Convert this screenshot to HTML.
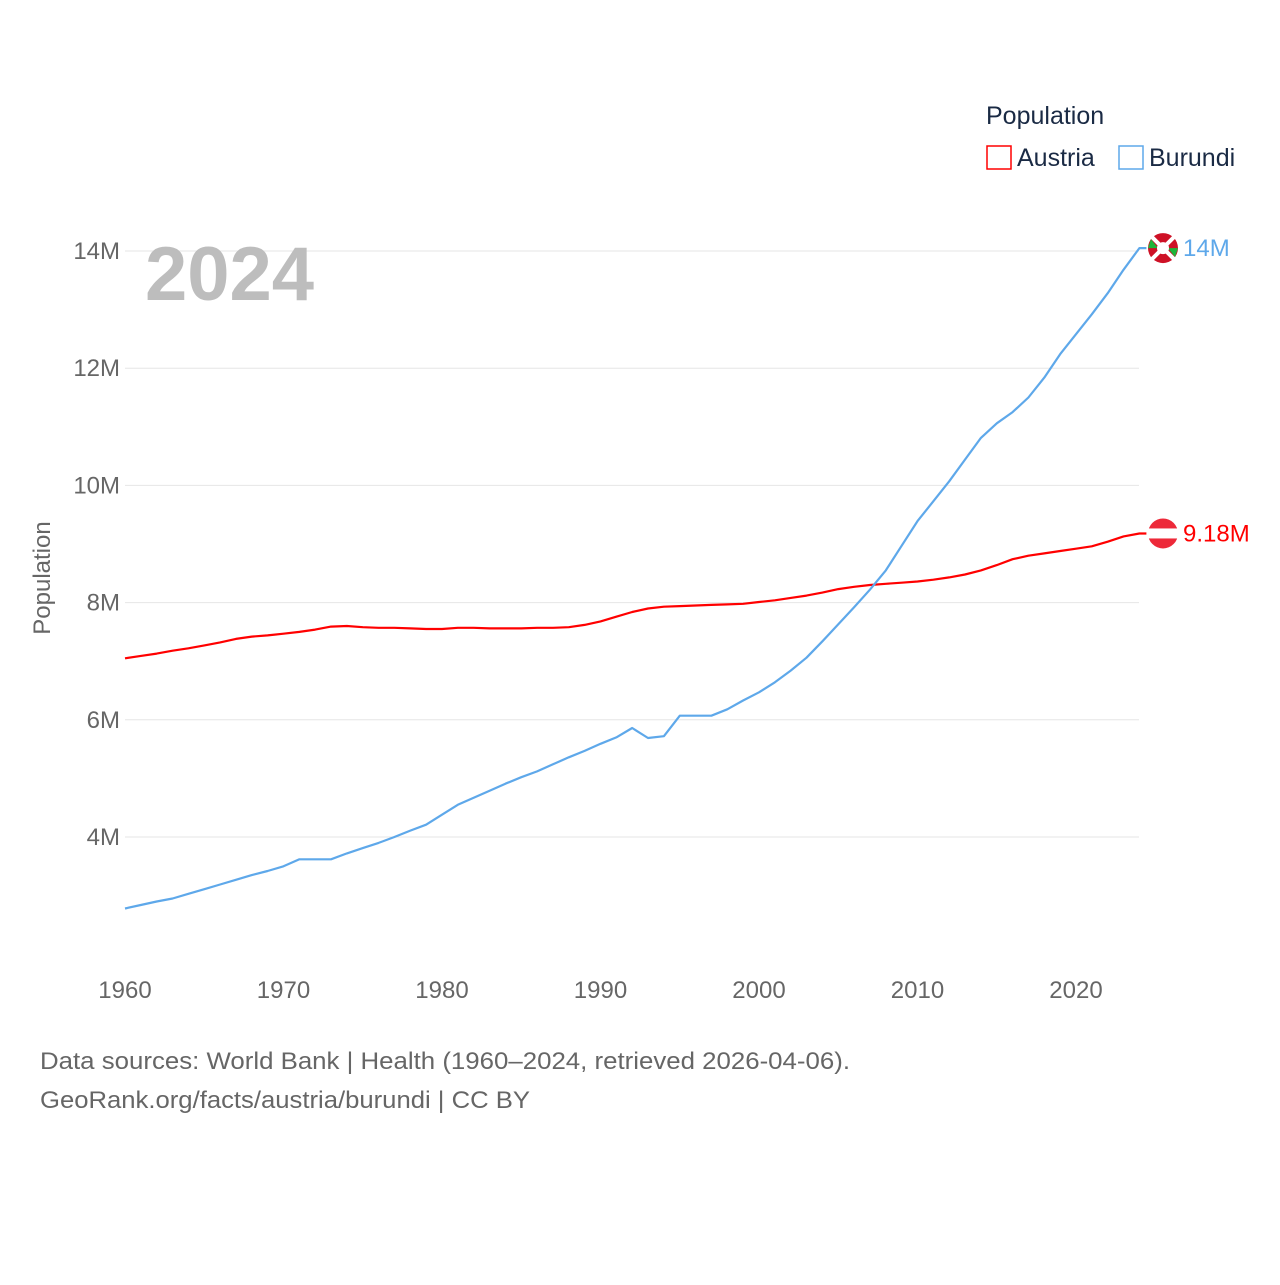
<!DOCTYPE html>
<html><head><meta charset="utf-8"><style>
body{margin:0;background:#fff;font-family:"Liberation Sans",sans-serif;}
svg text{font-family:"Liberation Sans",sans-serif;}
</style></head><body>
<svg id="chart" width="1280" height="1280" xmlns="http://www.w3.org/2000/svg">
<g id="grid"></g>
<g id="yticks"></g>
<g id="xticks"></g>
<text x="145" y="300" font-size="76" font-weight="bold" fill="#bdbdbd">2024</text>
<text transform="translate(50,578) rotate(-90)" text-anchor="middle" font-size="24" fill="#666">Population</text>
<g id="series"></g>
<g>
<text x="986" y="124" font-size="25" fill="#1a2a44">Population</text>
<rect x="987" y="146" width="24" height="23" fill="none" stroke="#ff0000" stroke-width="1.5"/>
<text x="1017" y="166" font-size="25" fill="#1a2a44">Austria</text>
<rect x="1119" y="146" width="24" height="23" fill="none" stroke="#5ea8ea" stroke-width="1.5"/>
<text x="1149" y="166" font-size="25" fill="#1a2a44">Burundi</text>
</g>
<text x="40" y="1069" font-size="24" fill="#666" textLength="810" lengthAdjust="spacingAndGlyphs">Data sources: World Bank | Health (1960–2024, retrieved 2026-04-06).</text>
<text x="40" y="1108" font-size="24" fill="#666" textLength="490" lengthAdjust="spacingAndGlyphs">GeoRank.org/facts/austria/burundi | CC BY</text>
</svg>
<script>
const years=[];for(let y=1960;y<=2024;y++)years.push(y);
const austria=[7.05,7.09,7.13,7.18,7.22,7.27,7.32,7.38,7.42,7.44,7.47,7.50,7.54,7.59,7.60,7.58,7.57,7.57,7.56,7.55,7.55,7.57,7.57,7.56,7.56,7.56,7.57,7.57,7.58,7.62,7.68,7.76,7.84,7.90,7.93,7.94,7.95,7.96,7.97,7.98,8.01,8.04,8.08,8.12,8.17,8.23,8.27,8.30,8.32,8.34,8.36,8.39,8.43,8.48,8.55,8.64,8.74,8.80,8.84,8.88,8.92,8.96,9.04,9.13,9.18];
const burundi=[2.78,2.84,2.90,2.95,3.03,3.11,3.19,3.27,3.35,3.42,3.50,3.62,3.62,3.62,3.72,3.81,3.90,4.00,4.11,4.21,4.38,4.55,4.67,4.79,4.91,5.02,5.12,5.24,5.36,5.47,5.59,5.70,5.86,5.69,5.72,6.07,6.07,6.07,6.18,6.33,6.47,6.64,6.84,7.06,7.34,7.63,7.92,8.22,8.55,8.97,9.39,9.73,10.07,10.44,10.81,11.06,11.25,11.50,11.84,12.24,12.58,12.92,13.28,13.68,14.05];
const yTicks=[4,6,8,10,12,14];
const xTicks=[1960,1970,1980,1990,2000,2010,2020];
const NS="http://www.w3.org/2000/svg";
const X=y=>125+(y-1960)*15.85;
const Y=v=>837-(v-4)*58.6;
function mk(t,a,p){const e=document.createElementNS(NS,t);for(const k in a)e.setAttribute(k,a[k]);p.appendChild(e);return e;}
const grid=document.getElementById('grid'),yt=document.getElementById('yticks'),xt=document.getElementById('xticks'),ser=document.getElementById('series');
yTicks.forEach(v=>{
 const l=mk('line',{x1:125,x2:1139,y1:Y(v),y2:Y(v),stroke:'#e6e6e6','stroke-width':1},grid);
 
 
 const t=mk('text',{x:120,y:Y(v)+8,'text-anchor':'end','font-size':24,fill:'#666'},yt);
 
 
 t.textContent=v+'M';
});
xTicks.forEach(v=>{
 const t=mk('text',{x:X(v),y:998,'text-anchor':'middle','font-size':24,fill:'#666'},xt);
 
 
 t.textContent=v;
});
function line(data,color,name){
 let d=data.map((v,i)=>(i?'L':'M')+X(years[i]).toFixed(1)+','+Y(v).toFixed(1)).join('');
 d+='L'+(X(2024)+7)+','+Y(data[data.length-1]).toFixed(1);
 const p=mk('path',{d:d,fill:'none',stroke:color,'stroke-width':2.2,'stroke-linejoin':'round'},ser);
 
 
}
line(austria,'#ff0000','austria-line');
line(burundi,'#5ea8ea','burundi-line');
function flag(v,kind,color,label,name){
 const cy=Y(v),cx=1163;
 const g=mk('g',{},ser);
 
 
 if(kind==='at'){
  mk('circle',{cx:cx,cy:cy,r:15,fill:'#ed2939'},g);
  mk('rect',{x:cx-15,y:cy-5,width:30,height:10,fill:'#fff'},g);
 }else{
  mk('circle',{cx:cx,cy:cy,r:15,fill:'#ce1126'},g);
  mk('path',{d:`M${cx-15},${cy}L${cx-5},${cy}L${cx-12},${cy-9}Z M${cx+15},${cy}L${cx+5},${cy}L${cx+12},${cy+9}Z`,fill:'#1eb53a'},g);
  mk('path',{d:`M${cx-11},${cy-11}L${cx+11},${cy+11}M${cx+11},${cy-11}L${cx-11},${cy+11}`,stroke:'#fff','stroke-width':4},g);
  mk('circle',{cx:cx,cy:cy,r:6,fill:'#fff'},g);
 }
 const t=mk('text',{x:1183,y:cy+8,'font-size':24,fill:color},ser);
 
 
 t.textContent=label;
}
flag(austria[austria.length-1],'at','#ff0000','9.18M','austria');
flag(burundi[burundi.length-1],'bi','#5ea8ea','14M','burundi');
</script>
</body></html>
